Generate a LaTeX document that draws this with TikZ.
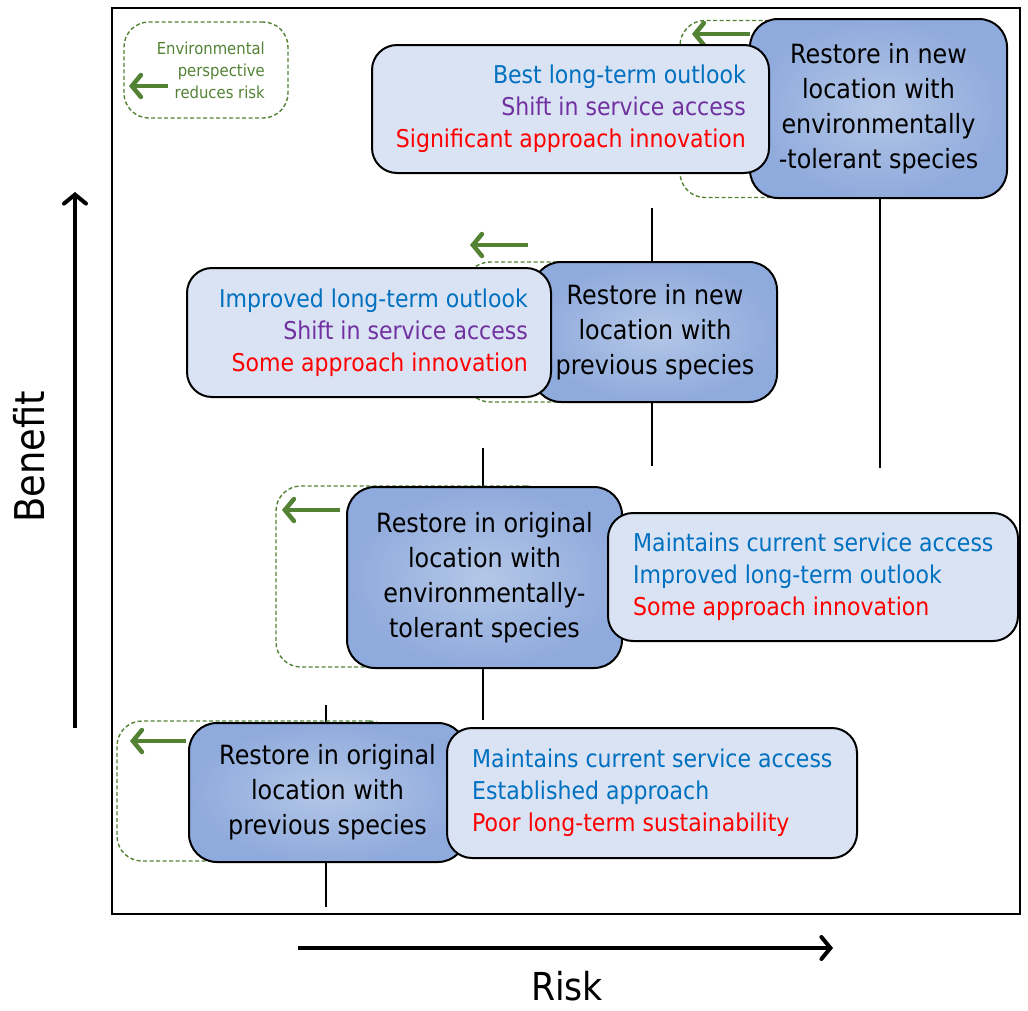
\documentclass[tikz,border=0pt]{standalone}
\usepackage{fontspec}
\setmainfont{DejaVu Sans}[FakeStretch=0.9]
\usetikzlibrary{arrows.meta}
\definecolor{tblue}{HTML}{0070C0}
\definecolor{tpurple}{HTML}{7030A0}
\definecolor{tred}{HTML}{FF0000}
\definecolor{envgreen}{HTML}{548235}
\definecolor{lightfill}{HTML}{DAE3F3}
\definecolor{darkin}{HTML}{B4C7E7}
\definecolor{darkout}{HTML}{8FAADC}
\tikzset{
  darkbox/.style={draw=black, line width=2pt, rounded corners=28pt, inner color=darkin, outer color=darkout,
    align=center, inner sep=0pt, font=\fontsize{26.5}{35}\selectfont},
  lightbox/.style={draw=black, line width=2pt, rounded corners=25pt, fill=lightfill, inner sep=0pt},
  lighttext/.style={inner sep=0pt, font=\fontsize{24.5}{32}\selectfont},
  envbox/.style={draw=envgreen, dashed, dash pattern=on 4pt off 2.5pt, line width=1.4pt, rounded corners=25pt, inner sep=0pt},
  envarrow/.style={draw=envgreen, line width=4.5pt, -{Straight Barb[length=9pt, width=22pt, line cap=round]}},
  axisarrow/.style={draw=black, line width=4pt, -{Straight Barb[length=9pt, width=22pt, line cap=round]}},
  bar/.style={draw=black, line width=2pt},
  axislabel/.style={inner sep=0pt, anchor=base}
}
\begin{document}
\begin{tikzpicture}[x=1pt, y=-1pt]
\useasboundingbox (0,0) rectangle (1028,1010);
% frame
\node[draw=black, line width=2.5pt, minimum width=908pt, minimum height=906pt, inner sep=0pt] (frame) at (566,461) {};
% axes
\coordinate (bA) at (75,728);
\coordinate (bB) at (75,192);
\draw[axisarrow] (bA) -- (bB);
\node[axislabel, rotate=90, font=\fontsize{41}{44}\selectfont] (benefit) at (44,457) {Benefit};
\coordinate (rA) at (298,948);
\coordinate (rB) at (833,948);
\draw[axisarrow] (rA) -- (rB);
\node[axislabel, font=\fontsize{38.5}{40}\selectfont] (risk) at (567,1000) {Risk};
% vertical bars
\coordinate (v1t) at (880,150); \coordinate (v1b) at (880,468);
\coordinate (v2t) at (652,208); \coordinate (v2b) at (652,466);
\coordinate (v3t) at (483,448); \coordinate (v3b) at (483,720);
\coordinate (v4t) at (326,705); \coordinate (v4b) at (326,907);
\draw[bar] (v1t) -- (v1b);
\draw[bar] (v2t) -- (v2b);
\draw[bar] (v3t) -- (v3b);
\draw[bar] (v4t) -- (v4b);
% legend
\node[envbox, minimum width=164pt, minimum height=96pt] (legend) at (206,70) {};
\node[text=envgreen, align=right, anchor=east, font=\fontsize{16.5}{22}\selectfont, inner sep=0pt] (legtext) at (265,70) {Environmental\\perspective\\reduces risk};
\coordinate (legA) at (168,86); \coordinate (legB) at (129,86);
\draw[envarrow] (legA) -- (legB);
% dashed shadows
\node[envbox, minimum width=257pt, minimum height=177pt] (e1) at (808.5,109) {};
\node[envbox, minimum width=247pt, minimum height=140pt] (e2) at (588.5,332) {};
\node[envbox, minimum width=275pt, minimum height=181pt] (e3) at (413.5,576.5) {};
\node[envbox, minimum width=277pt, minimum height=140pt] (e4) at (255.5,791) {};
% green arrows
\coordinate (a1s) at (750,34); \coordinate (a1e) at (692,34);
\coordinate (a2s) at (528,245); \coordinate (a2e) at (470,245);
\coordinate (a3s) at (340,510); \coordinate (a3e) at (282,510);
\coordinate (a4s) at (186,741); \coordinate (a4e) at (130,741);
\draw[envarrow] (a1s) -- (a1e);
\draw[envarrow] (a2s) -- (a2e);
\draw[envarrow] (a3s) -- (a3e);
\draw[envarrow] (a4s) -- (a4e);
% dark boxes
\node[darkbox, minimum width=257pt, minimum height=179pt] (d1) at (878.5,108.5) {Restore in new\\location with\\environmentally\\-tolerant species};
\node[darkbox, minimum width=244pt, minimum height=140pt] (d2) at (655,332) {Restore in new\\location with\\previous species};
\node[darkbox, minimum width=275pt, minimum height=181pt] (d3) at (484.5,577.5) {Restore in original\\location with\\environmentally-\\tolerant species};
\node[darkbox, minimum width=277pt, minimum height=139pt] (d4) at (327.5,792.5) {Restore in original\\location with\\previous species};
% light boxes
\node[lightbox, minimum width=397pt, minimum height=128pt] (l1) at (570.5,109) {};
\node[lighttext, align=right, anchor=east] (t1) at ([xshift=-24pt]l1.east)
  {\textcolor{tblue}{Best long-term outlook}\\\textcolor{tpurple}{Shift in service access}\\\textcolor{tred}{Significant approach innovation}};
\node[lightbox, minimum width=364pt, minimum height=129pt] (l2) at (369,332.5) {};
\node[lighttext, align=right, anchor=east] (t2) at ([xshift=-24pt]l2.east)
  {\textcolor{tblue}{Improved long-term outlook}\\\textcolor{tpurple}{Shift in service access}\\\textcolor{tred}{Some approach innovation}};
\node[lightbox, minimum width=410pt, minimum height=128pt] (l3) at (813,577) {};
\node[lighttext, align=left, anchor=west] (t3) at ([xshift=26pt]l3.west)
  {\textcolor{tblue}{Maintains current service access}\\\textcolor{tblue}{Improved long-term outlook}\\\textcolor{tred}{Some approach innovation}};
\node[lightbox, minimum width=410pt, minimum height=130pt] (l4) at (652,793) {};
\node[lighttext, align=left, anchor=west] (t4) at ([xshift=26pt]l4.west)
  {\textcolor{tblue}{Maintains current service access}\\\textcolor{tblue}{Established approach}\\\textcolor{tred}{Poor long-term sustainability}};
\end{tikzpicture}
\end{document}
